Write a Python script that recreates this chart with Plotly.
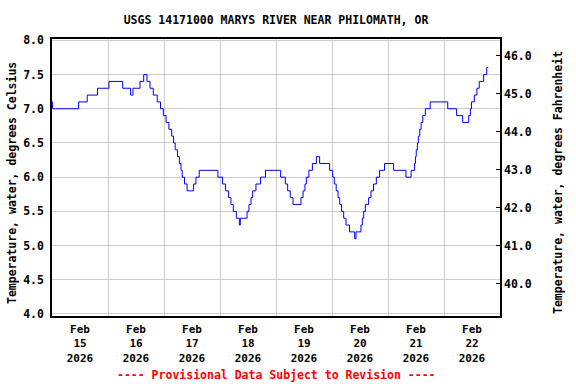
import pandas as pd
import plotly.graph_objects as go

# Hours since 2026-02-15 00:00 at which the reading changes, and the reading (deg C)
hours = [0, 0.25, 11.4, 15.1, 19.5, 24.4, 30.3, 33.7, 34.7, 37.7, 39.3, 40.7,
         42.0, 43.4, 45.1, 46.5, 47.7, 48.9, 50.1, 51.3, 52.1, 52.8, 53.8, 54.6,
         55.3, 55.8, 56.8, 57.9, 60.7, 61.7, 63.1, 71.1, 73.1, 74.4, 75.7, 76.7,
         77.7, 79.0, 80.3, 80.7, 83.6, 84.4, 85.3, 86.0, 87.4, 89.4, 91.5, 98.0,
         100.0, 101.0, 102.1, 103.3, 106.7, 107.6, 108.4, 109.0, 110.1, 111.6,
         113.3, 114.7, 119.0, 120.3, 121.0, 121.8, 122.6, 123.3, 124.1, 125.0,
         126.0, 127.5, 129.7, 130.3, 132.4, 133.0, 133.6, 134.3, 135.7, 136.7,
         137.8, 139.0, 140.4, 142.5, 146.4, 151.7, 153.9, 155.4, 155.8, 156.1,
         156.6, 157.0, 157.6, 158.2, 158.9, 160.0, 162.1, 169.6, 173.4, 176.0,
         178.6, 179.3, 179.8, 181.0, 182.1, 183.1, 185.0, 186.3, 187.0]
temps_c = [7.1, 7.0, 7.1, 7.2, 7.3, 7.4, 7.3, 7.2, 7.3, 7.4, 7.5, 7.4,
           7.3, 7.2, 7.1, 7.0, 6.9, 6.8, 6.7, 6.6, 6.5, 6.4, 6.3, 6.2,
           6.1, 6.0, 5.9, 5.8, 5.9, 6.0, 6.1, 6.0, 5.9, 5.8, 5.7, 5.6,
           5.5, 5.4, 5.3, 5.4, 5.5, 5.6, 5.7, 5.8, 5.9, 6.0, 6.1, 6.0,
           5.9, 5.8, 5.7, 5.6, 5.7, 5.8, 5.9, 6.0, 6.1, 6.2,
           6.3, 6.2, 6.1, 6.0, 5.9, 5.8, 5.7, 5.6, 5.5, 5.4,
           5.3, 5.2, 5.1, 5.2, 5.3, 5.4, 5.5, 5.6, 5.7, 5.8,
           5.9, 6.0, 6.1, 6.2, 6.1, 6.0, 6.1, 6.2, 6.3, 6.4,
           6.5, 6.6, 6.7, 6.8, 6.9, 7.0, 7.1, 7.0, 6.9, 6.8,
           6.9, 7.0, 7.1, 7.2, 7.3, 7.4, 7.5, 7.6, 7.6]

start = pd.Timestamp("2026-02-15 00:00")
days = [f"2026-02-{d}" for d in range(15, 23)]
day_labels = [f"Feb<br>{d}<br>2026" for d in range(15, 23)]
yticks_c = [4.0, 4.5, 5.0, 5.5, 6.0, 6.5, 7.0, 7.5, 8.0]
yticks_f = [40.0, 41.0, 42.0, 43.0, 44.0, 45.0, 46.0]

times = [start + pd.Timedelta(hours=h) for h in hours]
temps_f = [c * 1.8 + 32 for c in temps_c]
noon = [pd.Timestamp(d) + pd.Timedelta(hours=12) for d in days]

FONT = "DejaVu Sans Mono"
yr = [3.97, 8.02]

fig = go.Figure()
fig.add_trace(go.Scatter(x=times, y=temps_c, mode="lines", line_shape="hv",
                         line=dict(color="#0000ff", width=1), showlegend=False))
fig.add_trace(go.Scatter(x=times, y=temps_f, mode="lines", yaxis="y2",
                         line=dict(color="rgba(0,0,0,0)", width=0),
                         hoverinfo="skip", showlegend=False))

fig.update_layout(
    width=576, height=384,
    margin=dict(l=52, r=76, t=39, b=68, autoexpand=False),
    paper_bgcolor="white", plot_bgcolor="white",
    font=dict(family=FONT, size=11.5, color="black", weight="bold"),
    title=dict(text="USGS 14171000 MARYS RIVER NEAR PHILOMATH, OR",
               x=0.5, xref="paper", xanchor="center",
               y=1 - 20 / 384, yanchor="middle",
               font=dict(family=FONT, size=11.5, color="black", weight="bold")),
    xaxis=dict(range=[start, start + pd.Timedelta(days=8)],
               tickvals=noon, ticktext=day_labels, ticks="",
               showgrid=False, showline=True, mirror=True,
               linecolor="black", linewidth=1.5, zeroline=False,
               tickfont=dict(size=11), automargin=False, ticklabelstandoff=2,
               minor=dict(tick0=start, dtick=86400000, showgrid=True,
                          gridcolor="#cccccc", gridwidth=1, ticks="")),
    yaxis=dict(range=yr, tickvals=yticks_c, tickformat=".1f",
               showgrid=True, gridcolor="#cccccc", gridwidth=1,
               showline=True, mirror=True, linecolor="black", linewidth=1.5,
               zeroline=False, ticks="", ticklabelstandoff=4, automargin=False),
    yaxis2=dict(overlaying="y", side="right",
                range=[yr[0] * 1.8 + 32, yr[1] * 1.8 + 32],
                tickvals=yticks_f, tickformat=".1f", showgrid=False,
                zeroline=False, showline=False, ticks="inside", ticklen=4,
                tickcolor="black", ticklabelstandoff=3, automargin=False),
    annotations=[
        dict(text="Temperature, water, degrees Celsius", textangle=-90,
             xref="paper", yref="paper", x=(12 - 52) / 448, y=0.48,
             xanchor="center", yanchor="middle", showarrow=False),
        dict(text="Temperature, water, degrees Fahrenheit", textangle=-90,
             xref="paper", yref="paper", x=1 + (558 - 500) / 448, y=0.48,
             xanchor="center", yanchor="middle", showarrow=False),
        dict(text="---- Provisional Data Subject to Revision ----",
             xref="paper", yref="paper", x=0.5, y=-(375 - 316) / 277,
             xanchor="center", yanchor="middle", showarrow=False,
             font=dict(color="#ff0000")),
    ],
)

fig.write_html("out.html", config={"displayModeBar": False},
               post_script="document.body.style.margin='0';"
                           "document.body.style.overflow='hidden';")
